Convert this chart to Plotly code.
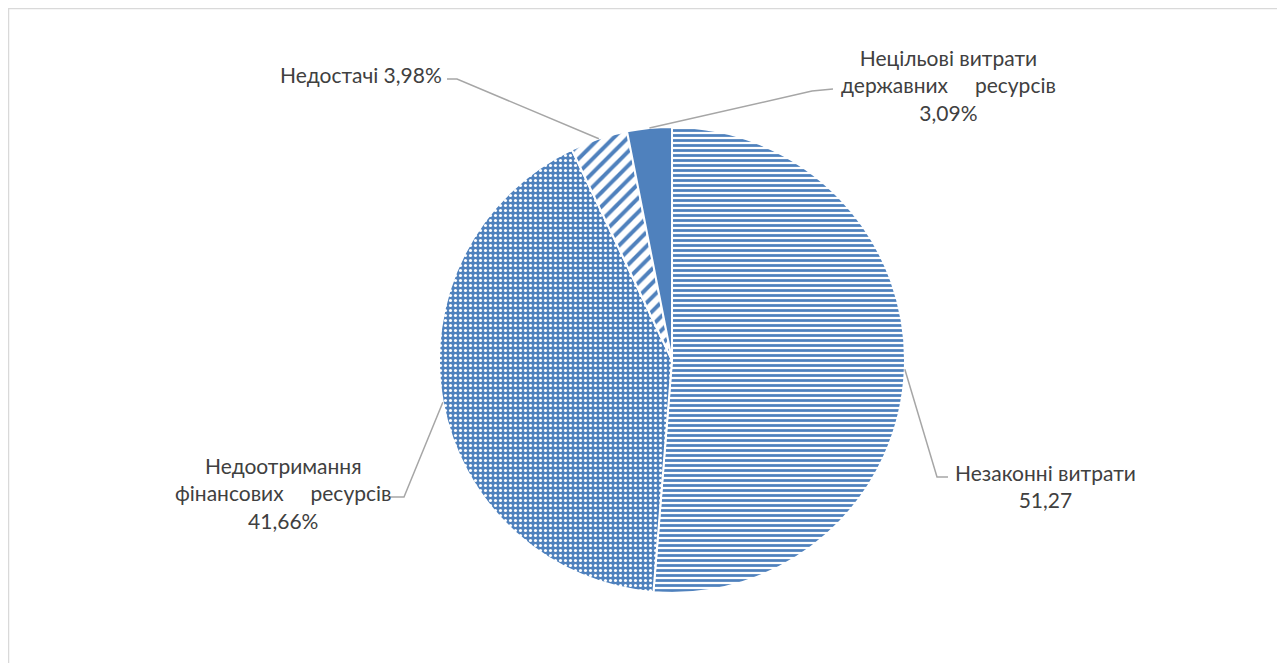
import math
import plotly.graph_objects as go

# ---- data ----
categories = ["Незаконні витрати", "Недоотримання фінансових ресурсів",
              "Недостачі", "Нецільові витрати державних ресурсів"]
values = [51.27, 41.66, 3.98, 3.09]
value_labels = ["51,27", "41,66%", "3,98%", "3,09%"]

label_texts = [
    "Незаконні витрати<br>" + value_labels[0],
    "Недоотримання<br>фінансових\u00a0\u00a0\u00a0\u00a0\u00a0ресурсів<br>" + value_labels[1],
    "Недостачі " + value_labels[2],
    "Нецільові витрати<br>державних\u00a0\u00a0\u00a0\u00a0\u00a0ресурсів<br>" + value_labels[3],
]

# ---- layout geometry (figure pixels; page adds an 8px body margin) ----
W, H = 1285, 663
OFF = 8
L, R, T, B = 43, 0, 119, 78
PW, PH = W - L - R, H - T - B
CX, CY = L + PW / 2, T + PH / 2
RAD = min(PW, PH) / 2

BLUE = "#4F81BD"
GRAY_LINE = "#A6A6A6"
TXT = "#404040"
FONT = "Lato, Open Sans, sans-serif"


def fig2paper(x, y):
    return (x - L) / PW, 1 - (y - T) / PH


def scr2paper(x, y):
    return fig2paper(x - OFF, y - OFF)


total = sum(values)
mids = []
acc = 0.0
for v in values:
    mids.append((acc + v / 2) / total * 2 * math.pi)
    acc += v


def edge_point(theta):
    return CX + RAD * math.sin(theta), CY - RAD * math.cos(theta)


fig = go.Figure(go.Pie(
    labels=categories,
    values=values,
    sort=False,
    direction="clockwise",
    rotation=0,
    textinfo="none",
    hoverinfo="label+value",
    showlegend=False,
    marker=dict(
        colors=["white", BLUE, "white", BLUE],
        line=dict(color="white", width=2),
        pattern=dict(
            shape=["-", ".", "/", ""],
            fgcolor=[BLUE, "white", BLUE, BLUE],
            bgcolor=["white", BLUE, "white", BLUE],
            size=[5, 5, 10, 5],
            solidity=[0.55, 0.3, 0.4, 1],
            fillmode="replace",
        ),
    ),
))

# leader bend points and label anchors (screen pixels)
leaders = [
    ((937, 477), (948, 477), 1045, 486, "center"),
    ((404, 497), (390, 497), 283, 493, "center"),
    ((457, 79), (447, 79), 444, 74, "right"),
    ((812, 91), (833, 89), 948, 85, "center"),
]

shapes = []
annotations = []
for i, (b1, b2, lx, ly, xa) in enumerate(leaders):
    ex, ey = edge_point(mids[i])
    p0 = fig2paper(ex, ey)
    p1 = scr2paper(*b1)
    p2 = scr2paper(*b2)
    path = "M {} {} L {} {} L {} {}".format(p0[0], p0[1], p1[0], p1[1], p2[0], p2[1])
    shapes.append(dict(type="path", xref="paper", yref="paper", path=path,
                       line=dict(color=GRAY_LINE, width=1.5)))
    ax, ay = scr2paper(lx, ly)
    annotations.append(dict(text=label_texts[i], x=ax, y=ay, xref="paper", yref="paper",
                            xanchor=xa, yanchor="middle", showarrow=False, align="center",
                            font=dict(family=FONT, size=21, color=TXT)))

# chart-area border
x0, y0 = fig2paper(0.5, 0.5)
x1, y1 = scr2paper(1282, 680)
shapes.append(dict(type="rect", xref="paper", yref="paper", x0=x0, y0=y0, x1=x1, y1=y1,
                   line=dict(color="#D9D9D9", width=1.5), fillcolor="rgba(0,0,0,0)"))

fig.update_layout(
    width=W, height=H,
    margin=dict(l=L, r=R, t=T, b=B),
    paper_bgcolor="white",
    plot_bgcolor="white",
    shapes=shapes,
    annotations=annotations,
)

fig.write_html("out.html")
